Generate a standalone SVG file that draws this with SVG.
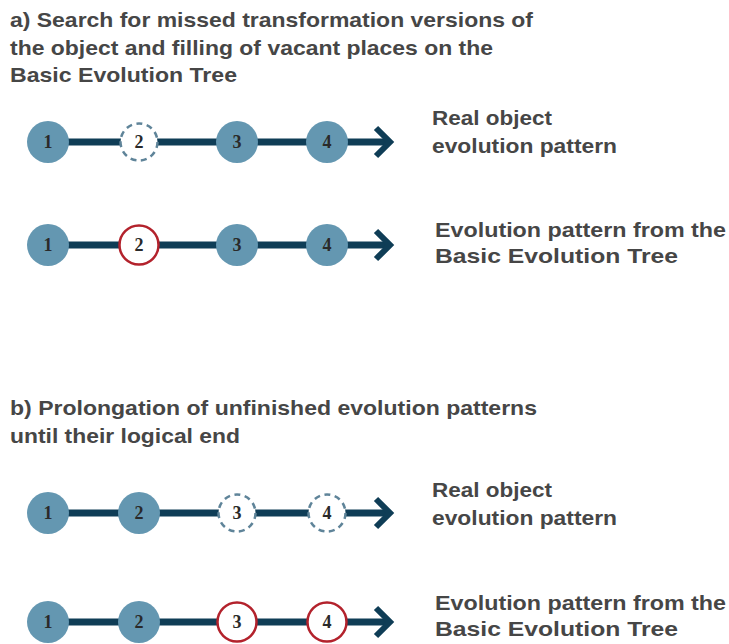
<svg xmlns="http://www.w3.org/2000/svg" width="729" height="644" viewBox="0 0 729 644">
  <defs>
    <style>
      .title { font-family: "Liberation Sans", Arial, sans-serif; font-weight: bold; font-size: 20.5px; fill: #464646; }
      .label { font-family: "Liberation Sans", Arial, sans-serif; font-weight: bold; font-size: 20.5px; fill: #464646; }
      .num { font-family: "Liberation Serif", "Times New Roman", serif; font-weight: bold; font-size: 18px; fill: #2a2a2a; text-anchor: middle; }
      .link { stroke: #0f3d56; stroke-width: 7; fill: none; }
      .head { stroke: #0f3d56; stroke-width: 6; fill: none; stroke-linecap: butt; stroke-linejoin: miter; }
      .solid { fill: #6497b1; stroke: none; }
      .dashed { fill: #ffffff; stroke: #5f8499; stroke-width: 2.5; stroke-dasharray: 6 4.5; }
      .red { fill: #ffffff; stroke: #b3222c; stroke-width: 2.5; }
    </style>
  </defs>
  <rect width="729" height="644" fill="#ffffff"/>

  <!-- headings -->
  <g id="heading-a" class="title">
    <text x="10" y="27" textLength="523" lengthAdjust="spacingAndGlyphs">a) Search for missed transformation versions of</text>
    <text x="10" y="55" textLength="483" lengthAdjust="spacingAndGlyphs">the object and filling of vacant places on the</text>
    <text x="10" y="82" textLength="227" lengthAdjust="spacingAndGlyphs">Basic Evolution Tree</text>
  </g>
  <g id="heading-b" class="title">
    <text x="10" y="415" textLength="527" lengthAdjust="spacingAndGlyphs">b) Prolongation of unfinished evolution patterns</text>
    <text x="10" y="443" textLength="230" lengthAdjust="spacingAndGlyphs">until their logical end</text>
  </g>

  <!-- connectors -->
  <g id="connectors">
    <line class="link" x1="48" y1="142" x2="386" y2="142"/>
    <polyline class="head" points="376,128 390,142 376,156"/>
    <line class="link" x1="48" y1="245" x2="386" y2="245"/>
    <polyline class="head" points="376,231 390,245 376,259"/>
    <line class="link" x1="48" y1="513" x2="386" y2="513"/>
    <polyline class="head" points="376,499 390,513 376,527"/>
    <line class="link" x1="48" y1="622" x2="386" y2="622"/>
    <polyline class="head" points="376,608 390,622 376,636"/>
  </g>

  <!-- row a1: real object evolution pattern -->
  <g id="a1-n1"><circle class="solid" cx="48" cy="142" r="21"/><text class="num" x="48" y="148">1</text></g>
  <g id="a1-n2"><circle class="dashed" cx="139" cy="142" r="18.5"/><text class="num" x="139" y="148">2</text></g>
  <g id="a1-n3"><circle class="solid" cx="237" cy="142" r="21"/><text class="num" x="237" y="148">3</text></g>
  <g id="a1-n4"><circle class="solid" cx="327" cy="142" r="21"/><text class="num" x="327" y="148">4</text></g>
  <g id="a1-label" class="label">
    <text x="432" y="125" textLength="120" lengthAdjust="spacingAndGlyphs">Real object</text>
    <text x="432" y="153" textLength="185" lengthAdjust="spacingAndGlyphs">evolution pattern</text>
  </g>

  <!-- row a2: pattern from the tree -->
  <g id="a2-n1"><circle class="solid" cx="48" cy="245" r="21"/><text class="num" x="48" y="251">1</text></g>
  <g id="a2-n2"><circle class="red" cx="139" cy="245" r="19.5"/><text class="num" x="139" y="251">2</text></g>
  <g id="a2-n3"><circle class="solid" cx="237" cy="245" r="21"/><text class="num" x="237" y="251">3</text></g>
  <g id="a2-n4"><circle class="solid" cx="327" cy="245" r="21"/><text class="num" x="327" y="251">4</text></g>
  <g id="a2-label" class="label">
    <text x="435" y="237" textLength="291" lengthAdjust="spacingAndGlyphs">Evolution pattern from the</text>
    <text x="435" y="263" textLength="243" lengthAdjust="spacingAndGlyphs">Basic Evolution Tree</text>
  </g>

  <!-- row b1: real object evolution pattern -->
  <g id="b1-n1"><circle class="solid" cx="48" cy="513" r="21"/><text class="num" x="48" y="519">1</text></g>
  <g id="b1-n2"><circle class="solid" cx="139" cy="513" r="21"/><text class="num" x="139" y="519">2</text></g>
  <g id="b1-n3"><circle class="dashed" cx="237" cy="513" r="18.5"/><text class="num" x="237" y="519">3</text></g>
  <g id="b1-n4"><circle class="dashed" cx="327" cy="513" r="18.5"/><text class="num" x="327" y="519">4</text></g>
  <g id="b1-label" class="label">
    <text x="432" y="497" textLength="120" lengthAdjust="spacingAndGlyphs">Real object</text>
    <text x="432" y="525" textLength="185" lengthAdjust="spacingAndGlyphs">evolution pattern</text>
  </g>

  <!-- row b2: pattern from the tree -->
  <g id="b2-n1"><circle class="solid" cx="48" cy="622" r="21"/><text class="num" x="48" y="628">1</text></g>
  <g id="b2-n2"><circle class="solid" cx="139" cy="622" r="21"/><text class="num" x="139" y="628">2</text></g>
  <g id="b2-n3"><circle class="red" cx="237" cy="622" r="19.5"/><text class="num" x="237" y="628">3</text></g>
  <g id="b2-n4"><circle class="red" cx="327" cy="622" r="19.5"/><text class="num" x="327" y="628">4</text></g>
  <g id="b2-label" class="label">
    <text x="435" y="610" textLength="291" lengthAdjust="spacingAndGlyphs">Evolution pattern from the</text>
    <text x="435" y="636" textLength="243" lengthAdjust="spacingAndGlyphs">Basic Evolution Tree</text>
  </g>
</svg>
